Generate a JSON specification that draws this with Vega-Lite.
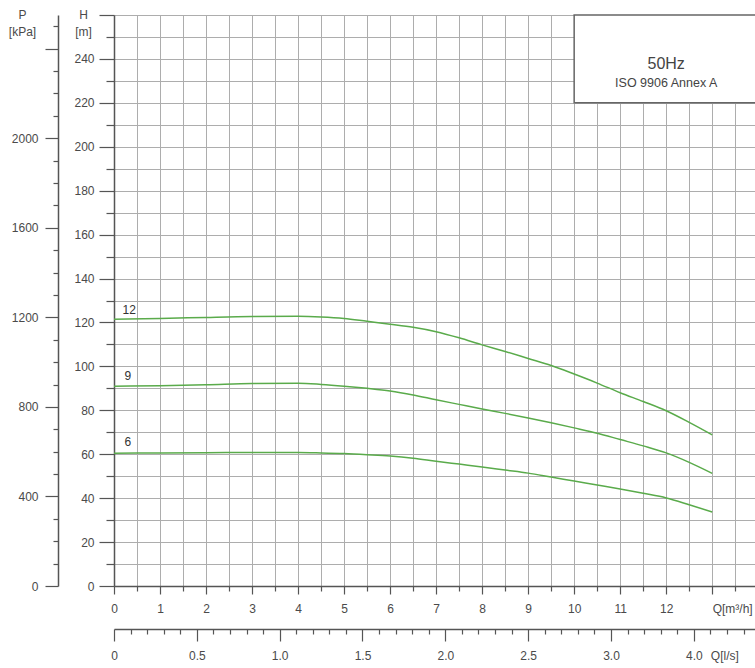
{
  "$schema": "https://vega.github.io/schema/vega-lite/v6.json",
  "autosize": "none",
  "padding": {"left": 114, "top": 15, "right": 0, "bottom": 82},
  "width": 641,
  "height": 571,
  "background": "white",
  "config": {
    "view": {"stroke": null},
    "axis": {
      "labelFont": "Liberation Sans", "labelFontSize": 12, "labelColor": "#4a4a4a",
      "titleFont": "Liberation Sans", "titleFontSize": 12, "titleFontWeight": "normal", "titleColor": "#4a4a4a",
      "tickColor": "#555", "domainColor": "#555", "domainWidth": 1.5, "tickWidth": 1.2,
      "gridColor": "#adadad", "gridWidth": 1,
      "labelOverlap": false, "labelFlush": false, "labelBound": false
    },
    "text": {"font": "Liberation Sans"}
  },
  "layer": [
    {
      "encoding": {
        "x": {
          "field": "Q", "type": "quantitative",
          "scale": {"domain": [0, 13.93], "nice": false, "zero": false},
          "axis": {
            "orient": "bottom", "title": null, "grid": true,
            "values": [0,0.5,1,1.5,2,2.5,3,3.5,4,4.5,5,5.5,6,6.5,7,7.5,8,8.5,9,9.5,10,10.5,11,11.5,12,12.5,13,13.5],
            "tickSize": {"condition": {"test": "datum.value % 1 === 0", "value": 8}, "value": 5},
            "labelExpr": "datum.value === 13 ? 'Q[m³/h]' : (datum.value % 1 === 0 ? format(datum.value, 'd') : '')",
            "labelAlign": {"condition": {"test": "datum.value === 13", "value": "left"}, "value": "center"},
            "labelPadding": 9
          }
        },
        "y": {
          "field": "H", "type": "quantitative",
          "scale": {"domain": [0, 260], "nice": false, "zero": false},
          "axis": {
            "orient": "left", "grid": true,
            "values": [0,10,20,30,40,50,60,70,80,90,100,110,120,130,140,150,160,170,180,190,200,210,220,230,240,250,260],
            "tickSize": {"condition": {"test": "datum.value % 20 === 0", "value": 15}, "value": 8},
            "labelExpr": "(datum.value % 20 === 0 && datum.value < 260) ? format(datum.value, 'd') : ''",
            "labelPadding": 5,
            "title": ["H", "[m]"], "titleAngle": 0, "titleX": -31, "titleY": -6,
            "titleAlign": "center", "titleBaseline": "top", "titleLineHeight": 17
          }
        }
      },
      "layer": [
        {
          "data": {"values": [{"Q": 10, "Q2": 14, "H": 220, "H2": 260}]},
          "mark": {"type": "rect", "fill": "white", "stroke": "#666", "strokeWidth": 1.5},
          "encoding": {"x2": {"field": "Q2"}, "y2": {"field": "H2"}}
        },
        {
          "data": {"values": [
            {"s": "12", "Q": 0, "H": 121.5}, {"s": "12", "Q": 1, "H": 121.8}, {"s": "12", "Q": 2, "H": 122.3}, {"s": "12", "Q": 3, "H": 122.7}, {"s": "12", "Q": 4, "H": 122.8}, {"s": "12", "Q": 4.5, "H": 122.5}, {"s": "12", "Q": 5, "H": 121.8}, {"s": "12", "Q": 5.5, "H": 120.5}, {"s": "12", "Q": 6, "H": 119.2}, {"s": "12", "Q": 6.5, "H": 117.8}, {"s": "12", "Q": 7, "H": 115.8}, {"s": "12", "Q": 7.5, "H": 113}, {"s": "12", "Q": 8, "H": 109.8}, {"s": "12", "Q": 8.5, "H": 106.8}, {"s": "12", "Q": 9, "H": 103.6}, {"s": "12", "Q": 9.5, "H": 100.4}, {"s": "12", "Q": 10, "H": 96.5}, {"s": "12", "Q": 10.5, "H": 92.4}, {"s": "12", "Q": 11, "H": 88}, {"s": "12", "Q": 11.5, "H": 84}, {"s": "12", "Q": 12, "H": 79.8}, {"s": "12", "Q": 12.5, "H": 74.5}, {"s": "12", "Q": 13, "H": 68.8},
            {"s": "9", "Q": 0, "H": 91}, {"s": "9", "Q": 1, "H": 91.2}, {"s": "9", "Q": 2, "H": 91.6}, {"s": "9", "Q": 3, "H": 92.2}, {"s": "9", "Q": 4, "H": 92.3}, {"s": "9", "Q": 4.5, "H": 91.8}, {"s": "9", "Q": 5, "H": 91}, {"s": "9", "Q": 5.5, "H": 90}, {"s": "9", "Q": 6, "H": 88.8}, {"s": "9", "Q": 6.5, "H": 87}, {"s": "9", "Q": 7, "H": 84.8}, {"s": "9", "Q": 7.5, "H": 82.7}, {"s": "9", "Q": 8, "H": 80.6}, {"s": "9", "Q": 8.5, "H": 78.6}, {"s": "9", "Q": 9, "H": 76.5}, {"s": "9", "Q": 9.5, "H": 74.3}, {"s": "9", "Q": 10, "H": 72}, {"s": "9", "Q": 10.5, "H": 69.6}, {"s": "9", "Q": 11, "H": 66.7}, {"s": "9", "Q": 11.5, "H": 63.8}, {"s": "9", "Q": 12, "H": 60.6}, {"s": "9", "Q": 12.5, "H": 56.3}, {"s": "9", "Q": 13, "H": 51.3},
            {"s": "6", "Q": 0, "H": 60.5}, {"s": "6", "Q": 1, "H": 60.6}, {"s": "6", "Q": 2, "H": 60.7}, {"s": "6", "Q": 3, "H": 60.8}, {"s": "6", "Q": 4, "H": 60.8}, {"s": "6", "Q": 4.5, "H": 60.6}, {"s": "6", "Q": 5, "H": 60.3}, {"s": "6", "Q": 5.5, "H": 59.8}, {"s": "6", "Q": 6, "H": 59.2}, {"s": "6", "Q": 6.5, "H": 58.2}, {"s": "6", "Q": 7, "H": 56.8}, {"s": "6", "Q": 7.5, "H": 55.5}, {"s": "6", "Q": 8, "H": 54.2}, {"s": "6", "Q": 8.5, "H": 52.8}, {"s": "6", "Q": 9, "H": 51.4}, {"s": "6", "Q": 9.5, "H": 49.6}, {"s": "6", "Q": 10, "H": 47.8}, {"s": "6", "Q": 10.5, "H": 46}, {"s": "6", "Q": 11, "H": 44.2}, {"s": "6", "Q": 11.5, "H": 42.2}, {"s": "6", "Q": 12, "H": 40.1}, {"s": "6", "Q": 12.5, "H": 37}, {"s": "6", "Q": 13, "H": 33.7}
          ]},
          "mark": {"type": "line", "color": "#5aab4b", "strokeWidth": 1.5, "interpolate": "monotone"},
          "encoding": {"detail": {"field": "s"}}
        },
        {
          "data": {"values": [
            {"label": "12", "Q": 0.33, "H": 125.5},
            {"label": "9", "Q": 0.3, "H": 95.6},
            {"label": "6", "Q": 0.3, "H": 65.6}
          ]},
          "mark": {"type": "text", "fontSize": 12, "color": "#333", "baseline": "middle", "align": "center"},
          "encoding": {"text": {"field": "label"}}
        },
        {
          "data": {"values": [
            {"label": "50Hz", "Q": 12, "H": 237.5, "size": "big"},
            {"label": "ISO 9906 Annex A", "Q": 12, "H": 229, "size": "small"}
          ]},
          "mark": {"type": "text", "color": "#444", "baseline": "middle", "align": "center"},
          "encoding": {
            "text": {"field": "label"},
            "size": {"field": "size", "type": "nominal", "scale": {"domain": ["big", "small"], "range": [16, 12.5]}, "legend": null}
          }
        }
      ]
    },
    {
      "data": {"values": [{}]},
      "mark": {"type": "rule", "opacity": 0},
      "encoding": {
        "x": {
          "datum": 0, "type": "quantitative",
          "scale": {"domain": [0, 3.8694], "nice": false, "zero": false},
          "axis": {
            "orient": "bottom", "offset": 43, "title": null, "grid": false,
            "values": [0,0.1,0.2,0.3,0.4,0.5,0.6,0.7,0.8,0.9,1,1.1,1.2,1.3,1.4,1.5,1.6,1.7,1.8,1.9,2,2.1,2.2,2.3,2.4,2.5,2.6,2.7,2.8,2.9,3,3.1,3.2,3.3,3.4,3.5,3.6,3.7,3.8],
            "tickSize": {"condition": {"test": "round(datum.value * 10) % 5 === 0", "value": 12}, "value": 5},
            "labelExpr": "datum.value === 3.5 ? '4.0' : (datum.value === 3.6 ? 'Q[l/s]' : (datum.value === 0 ? '0' : (round(datum.value * 10) % 5 === 0 ? format(datum.value, '.1f') : '')))",
            "labelAlign": {"condition": {"test": "datum.value === 3.6", "value": "left"}, "value": "center"},
            "labelPadding": {"condition": {"test": "datum.value === 3.6", "value": 16}, "value": 9}
          }
        }
      }
    },
    {
      "data": {"values": [{}]},
      "mark": {"type": "rule", "opacity": 0},
      "encoding": {
        "y": {
          "datum": 0, "type": "quantitative",
          "scale": {"domain": [0, 2550.6], "nice": false, "zero": false},
          "axis": {
            "orient": "left", "offset": 56, "grid": false,
            "values": [0,100,200,300,400,500,600,700,800,900,1000,1100,1200,1300,1400,1500,1600,1700,1800,1900,2000,2100,2200,2300,2400,2500],
            "tickSize": {"condition": {"test": "datum.value % 400 === 0", "value": 13}, "value": 5},
            "labelExpr": "(datum.value % 400 === 0 && datum.value < 2400) ? format(datum.value, 'd') : ''",
            "labelPadding": 7,
            "title": ["P", "[kPa]"], "titleAngle": 0, "titleX": -36, "titleY": -6,
            "titleAlign": "center", "titleBaseline": "top", "titleLineHeight": 17
          }
        }
      }
    }
  ],
  "resolve": {"scale": {"x": "independent", "y": "independent"}}
}
